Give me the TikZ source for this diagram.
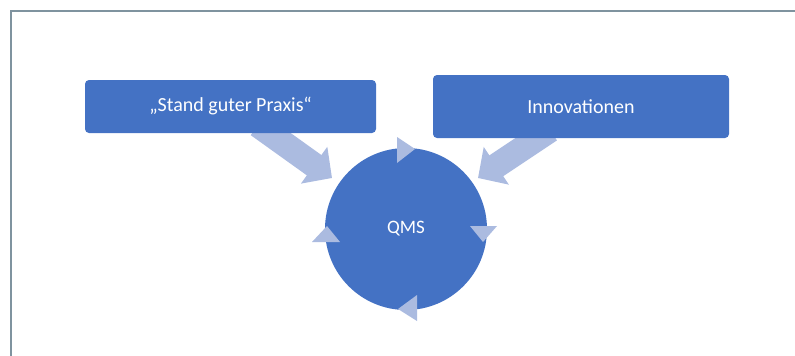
\documentclass[tikz,border=0pt]{standalone}
\usepackage{fontspec}
\setmainfont{Carlito}
\usetikzlibrary{arrows.meta}
\definecolor{boxblue}{HTML}{4472C4}
\definecolor{lightblue}{HTML}{ABBBE0}
\definecolor{framegray}{HTML}{7F939F}
\tikzset{
  bluebox/.style={rectangle, rounded corners=4pt, fill=boxblue, text=white, inner sep=0pt,
    font=\fontsize{20}{24}\selectfont},
  qmscircle/.style={circle, fill=boxblue, text=white, inner sep=0pt, minimum size=162pt,
    font=\fontsize{19}{23}\selectfont},
  bigarrow/.style={draw=lightblue, line width=25pt,
    -{Triangle[length=22pt,width=44pt,fill=lightblue]}},
  cyctip/.style={fill=lightblue},
  frameline/.style={draw=framegray, line width=2.8pt}
}
\begin{document}
\begin{tikzpicture}[x=1pt,y=-1pt]
\useasboundingbox (0,0) rectangle (795,356);
\draw[frameline] (11,356) -- (11,11) -- (795,11);
% big arrows (behind boxes)
\coordinate (ls) at (258,125);
\coordinate (lt) at (332,178);
\coordinate (rs) at (550,130);
\coordinate (rt) at (478,178);
\draw[bigarrow] (ls) -- (lt);
\draw[bigarrow] (rs) -- (rt);
% boxes
\node[bluebox, minimum width=291pt, minimum height=53pt] (praxis) at (230.5,106.5) {„Stand guter Praxis“};
\node[bluebox, minimum width=296pt, minimum height=63pt] (innov) at (581,106.5) {Innovationen};
% circle
\node[qmscircle] (qms) at (406,229) {QMS};
% cycle arrowheads
\fill[cyctip] (397,137) -- (397,163) -- (415,149) -- cycle;
\fill[cyctip] (470,226) -- (497,226) -- (483,242) -- cycle;
\fill[cyctip] (417,295) -- (417,321) -- (398,309) -- cycle;
\fill[cyctip] (312,242) -- (340,242) -- (327,226) -- cycle;
\end{tikzpicture}
\end{document}
